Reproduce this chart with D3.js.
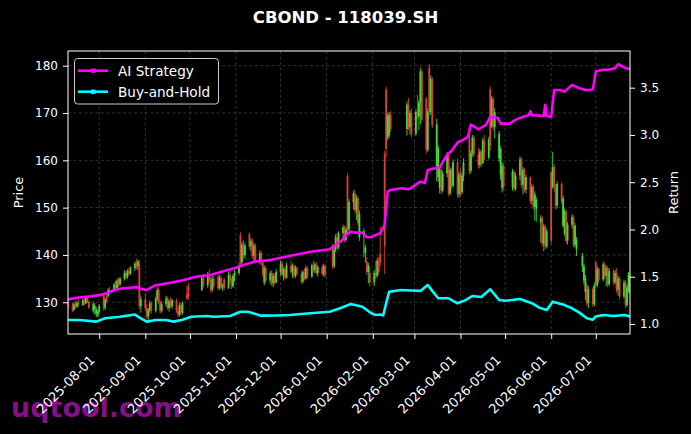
<!DOCTYPE html>
<html>
<head>
<meta charset="utf-8">
<script src="https://cdn.jsdelivr.net/npm/d3@7"></script>
<style>
  body { margin: 0; background: #000; }
  text { font-family: "DejaVu Sans", sans-serif; }
</style>
</head>
<body>
<div id="chart"></div>
<script>
// ---- data ----
const title = "CBOND - 118039.SH";
const startDay = "2025-07-11";
const endDay = "2026-07-24";
// exchange closed on these weekdays
const holidays = ["2025-10-01", "2025-10-02", "2025-10-03", "2025-10-06", "2025-10-07", "2025-10-08",
    "2026-01-01", "2026-01-02", "2026-02-16", "2026-02-17", "2026-02-18", "2026-02-19", "2026-02-20",
    "2026-02-23", "2026-04-06", "2026-05-01", "2026-05-04", "2026-05-05", "2026-06-19"];

const priceTicks = [130, 140, 150, 160, 170, 180];
const returnTicks = [1.0, 1.5, 2.0, 2.5, 3.0, 3.5];
const monthTicks = ["2025-08-01", "2025-09-01", "2025-10-01", "2025-11-01", "2025-12-01", "2026-01-01",
    "2026-02-01", "2026-03-01", "2026-04-01", "2026-05-01", "2026-06-01", "2026-07-01"];

// one row per trading day: [open, high, low, close]
const jul25 = [[129.8,130.4,128.4,129.0],[129.0,129.9,127.9,128.4],[128.4,130.0,128.2,129.6],[129.6,130.3,128.7,129.1],
    [129.1,130.2,128.8,129.9],[129.9,130.6,129.0,129.4],[129.4,130.8,129.2,130.5],[130.5,131.2,129.4,129.8],
    [129.8,131.4,129.6,131.0],[131.0,131.3,129.8,130.1],[130.1,130.4,128.6,128.9],[128.2,130.2,127.8,129.6],
    [128.6,129.8,127.4,129.2],[127.6,129.0,126.9,128.5],[127.2,128.4,126.8,128.0]];
const aug25 = [[128.0,129.6,127.6,129.2],[131.6,132.0,128.2,128.8],[128.8,131.0,128.3,130.6],[131.2,132.0,129.8,130.2],
    [131.4,133.0,131.0,132.6],[132.6,133.2,131.6,132.0],[132.4,134.2,132.2,133.8],[133.8,134.6,132.6,133.0],
    [133.0,135.0,132.8,134.6],[134.6,135.2,133.2,133.6],[133.8,135.4,133.4,135.0],[135.0,136.8,134.6,136.2],
    [136.2,136.6,134.8,135.2],[135.4,137.0,135.0,136.6],[136.6,137.4,135.6,136.0],[136.0,137.6,135.8,137.2],
    [137.2,138.6,136.6,138.2],[138.2,139.2,137.0,137.6],[137.6,139.0,136.8,138.6],[138.0,138.9,128.6,129.2],
    [129.2,131.4,127.8,130.6]];
const sep25 = [[130.6,131.8,128.2,128.8],[128.8,129.6,126.4,127.0],[127.0,128.8,126.2,128.4],[128.4,130.4,127.8,129.8],
    [129.8,130.2,127.6,128.2],[128.2,131.2,127.8,130.8],[130.8,133.2,130.2,132.6],[132.6,133.0,129.6,130.0],
    [130.0,130.6,127.6,128.2],[128.2,130.2,127.8,129.6],[129.6,131.4,129.0,130.8],[130.8,131.2,128.4,128.8],
    [128.8,130.6,128.0,130.2],[130.2,131.0,128.8,129.2],[129.2,130.8,128.6,130.4],[130.4,130.8,127.8,128.2],
    [128.2,129.0,126.8,127.4],[127.4,129.8,127.0,129.4],[129.4,130.0,127.2,127.8],[127.8,130.2,127.4,129.8],
    [131.8,133.4,130.4,130.8],[133.6,134.0,130.6,131.2]];
const oct25 = [[132.6,135.8,132.4,135.2],[135.2,136.0,133.2,133.6],[133.6,136.4,133.0,135.8],[135.8,137.0,134.2,134.6],
    [134.6,135.4,132.0,132.6],[132.6,135.6,132.2,135.0],[135.0,135.6,133.0,133.4],[135.4,135.8,132.6,133.0],
    [133.0,135.8,132.6,135.2],[135.2,135.6,132.8,133.2],[133.2,134.0,132.4,133.6],[134.8,135.2,132.6,133.0],
    [133.0,136.4,132.8,135.8],[135.8,136.6,134.0,134.4],[134.4,135.2,132.8,133.4],[133.4,136.0,133.0,135.6],
    [135.6,136.8,134.4,136.2]];
const nov25 = [[136.2,138.4,135.8,137.8],[144.2,144.8,137.6,138.4],[138.4,142.8,138.0,142.2],[142.2,143.2,139.4,140.0],
    [140.0,142.6,139.2,142.0],[144.4,144.8,141.2,141.8],[141.8,143.6,140.8,143.0],[143.0,143.4,139.2,139.8],
    [139.8,142.6,138.6,142.0],[142.0,142.4,138.2,138.6],[138.6,141.0,138.0,140.4],[140.4,140.8,137.8,138.4],
    [138.4,138.8,135.4,136.0],[134.2,137.8,133.6,137.2],[137.2,137.6,134.0,134.6],[134.6,136.6,133.8,136.2],
    [136.2,136.8,133.4,134.0],[134.0,136.2,133.2,135.6],[135.6,136.0,133.6,134.2],[134.2,137.0,134.0,136.4]];
const dec25 = [[136.4,138.8,135.6,138.2],[138.2,138.6,135.4,135.8],[135.8,137.4,134.6,137.0],[137.0,137.6,134.8,135.2],
    [135.2,138.4,135.0,137.8],[137.8,138.8,136.0,136.4],[136.4,138.2,135.2,137.6],[137.6,138.0,135.0,135.6],
    [135.6,137.8,135.2,137.2],[137.2,137.6,135.6,136.0],[136.0,136.6,133.8,134.4],[134.4,136.8,134.0,136.4],
    [136.4,137.2,134.6,135.0],[135.0,137.8,134.8,137.2],[137.2,137.6,135.0,135.4],[135.4,138.2,135.2,137.8],
    [137.8,138.8,136.4,136.8],[136.8,138.4,136.2,138.0],[138.0,138.6,135.8,136.2],[136.2,137.8,135.4,137.4],
    [137.4,138.0,135.6,136.0],[136.0,138.2,135.4,137.6],[137.6,138.0,135.2,135.8]];
const jan26 = [[142.0,142.4,137.0,137.6],[137.6,141.8,137.2,141.2],[141.2,144.4,140.6,143.8],[143.8,144.6,141.0,141.6],
    [141.6,145.0,141.2,144.6],[144.6,146.4,143.4,145.8],[145.8,146.2,142.6,143.2],[143.2,146.0,142.8,145.4],
    [156.6,157.2,144.6,145.4],[145.4,151.8,145.0,151.2],[151.2,153.6,149.6,153.0],[153.0,153.8,148.8,149.4],
    [149.4,152.6,147.4,152.0],[152.0,152.4,146.2,146.8],[143.8,149.4,143.0,148.6],[144.0,145.6,139.6,145.0],
    [140.4,142.2,138.4,141.6],[138.6,139.6,135.8,136.4],[136.4,138.4,134.0,137.8],[136.2,137.6,133.4,134.2]];
const feb26 = [[134.2,136.8,133.4,136.2],[136.2,138.8,135.0,135.6],[135.6,139.4,135.2,138.8],[138.8,139.6,135.8,136.4],
    [140.2,146.0,137.6,138.4],[161.4,162.0,136.0,142.0],[175.0,175.6,160.6,162.4],[164.8,170.0,164.2,169.4],
    [165.2,170.2,164.6,169.6],[169.6,170.4,166.0,166.6],[166.6,172.4,165.2,171.8],[171.8,173.2,166.4,167.0],
    [167.0,170.6,165.4,170.0],[170.0,171.0,164.8,165.6]];
const mar26 = [[165.6,170.8,165.2,170.2],[170.2,173.8,168.6,169.2],[169.2,172.8,166.4,172.2],[172.2,179.6,167.6,178.8],
    [178.8,179.2,168.0,168.6],[173.0,173.4,161.4,162.2],[162.2,171.0,161.8,170.4],[179.6,180.4,169.4,170.2],
    [170.2,178.0,169.6,177.2],[177.2,177.6,166.8,167.4],[158.2,168.8,155.6,167.6],[156.4,163.2,155.4,162.6],
    [154.2,158.8,153.0,158.0],[158.0,159.0,152.8,153.6],[153.6,157.8,153.2,157.2],[157.2,161.8,156.4,161.2],
    [161.2,161.6,152.4,153.0],[153.0,158.6,152.6,158.0],[158.0,158.4,154.0,154.6],[154.6,160.2,154.2,159.6],
    [159.6,160.4,152.2,152.8],[152.8,157.6,152.0,157.0]];
const apr26 = [[157.0,158.2,152.4,153.2],[153.2,157.4,152.8,156.8],[156.8,160.4,155.6,159.6],[164.8,165.4,157.0,157.8],
    [157.8,162.2,157.2,161.6],[161.6,165.4,160.8,164.8],[164.8,165.2,160.6,161.2],[161.2,162.6,158.2,159.0],
    [159.0,162.4,158.4,161.8],[161.8,162.2,158.6,159.4],[159.4,164.8,159.2,164.2],[164.2,165.4,160.0,160.6],
    [160.6,165.0,160.2,164.4],[175.0,175.6,162.0,163.0],[167.2,173.6,166.8,173.0],[173.0,173.4,166.2,167.0],
    [167.0,171.0,164.6,170.2],[160.4,166.2,159.6,165.6],[157.0,163.0,155.8,162.4],[154.2,159.6,153.2,158.8],
    [158.8,159.4,153.6,154.4]];
const may26 = [[154.4,158.2,153.6,157.6],[157.6,158.0,153.4,154.0],[154.0,157.4,153.6,156.8],[156.8,160.8,155.8,160.2],
    [160.2,160.6,154.2,154.8],[154.8,158.6,152.8,158.0],[158.0,158.4,153.2,153.8],[153.8,157.0,153.0,156.4],
    [156.4,156.6,150.8,151.4],[151.4,155.0,150.6,154.4],[154.4,154.8,149.6,150.2],[150.2,153.4,147.2,152.8],
    [149.8,152.2,147.0,151.6],[146.8,148.4,142.6,147.8],[147.8,148.2,141.8,142.4],[142.4,146.6,140.8,146.0],
    [146.0,146.4,141.2,141.8],[141.8,145.6,141.4,145.0]];
const jun26 = [[157.4,157.8,142.2,143.0],[154.4,161.8,154.0,158.6],[158.6,159.2,153.4,154.2],[154.2,155.0,149.6,150.4],
    [150.4,155.6,149.8,155.0],[155.0,155.4,150.8,151.4],[146.2,152.6,145.8,152.0],[144.6,149.8,144.0,149.2],
    [149.2,149.6,142.4,143.0],[143.0,147.0,142.2,146.4],[146.4,148.6,145.6,148.0],[148.0,148.4,141.6,142.2],
    [142.2,146.8,141.6,146.2],[141.2,143.8,139.8,143.2],[137.6,140.4,136.4,139.8],[134.6,138.2,133.8,137.6],
    [132.2,135.8,130.4,135.2],[133.6,134.0,129.2,129.8],[129.8,133.4,128.8,132.8],[132.8,133.2,129.0,129.6],
    [129.6,134.2,129.2,133.6]];
const jul26 = [[138.4,138.8,133.0,133.6],[133.6,137.6,133.2,137.0],[137.0,137.4,134.2,134.8],[134.8,138.6,134.4,138.0],
    [138.0,138.4,135.0,135.6],[135.6,137.8,133.4,137.2],[137.2,137.6,133.2,133.8],[133.8,137.2,133.4,136.6],
    [136.6,137.0,133.6,134.2],[134.2,136.8,133.8,136.2],[136.2,137.2,132.0,132.6],[132.6,135.6,131.4,135.0],
    [135.0,135.4,130.6,131.2],[131.2,134.8,130.8,134.2],[134.2,134.6,128.8,129.4],[129.4,133.8,129.0,133.2],
    [133.2,136.4,132.0,135.8],[135.8,136.2,131.6,132.4]];

const candleMonths = [["2025-07", jul25], ["2025-08", aug25], ["2025-09", sep25], ["2025-10", oct25],
    ["2025-11", nov25], ["2025-12", dec25], ["2026-01", jan26], ["2026-02", feb26], ["2026-03", mar26],
    ["2026-04", apr26], ["2026-05", may26], ["2026-06", jun26], ["2026-07", jul26]];

// cumulative return series (right axis)
const aiStrategy = [["2025-07-11",1.26],["2025-07-18",1.28],["2025-07-25",1.29],["2025-08-01",1.305],["2025-08-07",1.33],
    ["2025-08-11",1.36],["2025-08-17",1.378],["2025-08-27",1.39],["2025-08-29",1.37],["2025-09-02",1.36],
    ["2025-09-08",1.41],["2025-09-18",1.437],["2025-09-27",1.466],["2025-10-05",1.50],["2025-10-15",1.518],
    ["2025-10-17",1.53],["2025-10-24",1.56],["2025-10-31",1.59],["2025-11-07",1.63],["2025-11-14",1.66],
    ["2025-11-24",1.677],["2025-12-07",1.72],["2025-12-21",1.765],["2026-01-03",1.79],["2026-01-07",1.836],
    ["2026-01-11",1.88],["2026-01-14",1.94],["2026-01-17",1.977],["2026-01-20",1.966],["2026-01-25",1.966],
    ["2026-01-28",1.917],["2026-01-31",1.92],["2026-02-03",1.94],["2026-02-06",1.96],["2026-02-09",2.05],
    ["2026-02-11",2.40],["2026-02-13",2.418],["2026-02-20",2.436],["2026-02-25",2.425],["2026-02-28",2.453],
    ["2026-03-05",2.506],["2026-03-08",2.49],["2026-03-10",2.63],["2026-03-15",2.648],["2026-03-18",2.66],
    ["2026-03-23",2.79],["2026-03-26",2.83],["2026-03-30",2.92],["2026-04-03",2.95],["2026-04-06",2.98],
    ["2026-04-08",3.11],["2026-04-13",3.06],["2026-04-18",3.105],["2026-04-21",3.19],["2026-04-26",3.18],
    ["2026-04-28",3.12],["2026-05-04",3.12],["2026-05-08",3.159],["2026-05-11",3.18],["2026-05-17",3.21],
    ["2026-05-18",3.25],["2026-05-19",3.21],["2026-05-27",3.20],["2026-05-28",3.32],["2026-05-29",3.20],
    ["2026-06-01",3.19],["2026-06-03",3.476],["2026-06-07",3.476],["2026-06-10",3.458],["2026-06-15",3.53],
    ["2026-06-19",3.50],["2026-06-24",3.476],["2026-06-29",3.48],["2026-07-01",3.67],["2026-07-05",3.688],
    ["2026-07-09",3.69],["2026-07-14",3.706],["2026-07-16",3.748],["2026-07-21",3.706],["2026-07-24",3.70]];
const buyHold = [["2025-07-11",1.042],["2025-07-19",1.042],["2025-07-30",1.025],["2025-08-05",1.06],["2025-08-15",1.077],
    ["2025-08-25",1.10],["2025-08-29",1.06],["2025-09-02",1.025],["2025-09-08",1.042],["2025-09-15",1.042],
    ["2025-09-20",1.025],["2025-09-26",1.045],["2025-10-02",1.077],["2025-10-12",1.085],["2025-10-17",1.077],
    ["2025-10-28",1.085],["2025-11-04",1.13],["2025-11-09",1.13],["2025-11-18",1.088],["2025-11-28",1.09],
    ["2025-12-07",1.095],["2025-12-21",1.113],["2026-01-03",1.13],["2026-01-10",1.166],["2026-01-17",1.21],
    ["2026-01-20",1.20],["2026-01-25",1.183],["2026-01-31",1.113],["2026-02-03",1.095],["2026-02-06",1.10],
    ["2026-02-08",1.09],["2026-02-10",1.22],["2026-02-12",1.34],["2026-02-20",1.36],["2026-02-27",1.355],
    ["2026-03-05",1.35],["2026-03-10",1.413],["2026-03-13",1.35],["2026-03-17",1.272],["2026-03-24",1.272],
    ["2026-03-30",1.219],["2026-04-04",1.25],["2026-04-09",1.296],["2026-04-15",1.285],["2026-04-21",1.367],
    ["2026-04-27",1.254],["2026-05-01",1.245],["2026-05-11",1.265],["2026-05-19",1.22],["2026-05-24",1.173],
    ["2026-05-29",1.148],["2026-06-02",1.236],["2026-06-10",1.20],["2026-06-15",1.166],["2026-06-20",1.12],
    ["2026-06-25",1.06],["2026-06-29",1.045],["2026-07-01",1.08],["2026-07-06",1.095],["2026-07-13",1.085],
    ["2026-07-20",1.095],["2026-07-24",1.08]];

// ---- layout ----
const W = 691, H = 434;
const plot = { left: 68, right: 630, top: 51, bottom: 334 };
const upColor = "#4cf03c", downColor = "#f0483a";
const aiColor = "#ff00ff", bhColor = "#00ffff";

const parse = d3.timeParse("%Y-%m-%d");
const fmt = d3.timeFormat("%Y-%m-%d");

// trading calendar: weekdays minus holidays
const tradingDays = d3.timeDay.range(parse(startDay), d3.timeDay.offset(parse(endDay), 1))
    .filter(d => d.getDay() !== 0 && d.getDay() !== 6 && !holidays.includes(fmt(d)));

const candles = [];
candleMonths.forEach(([key, rows]) => {
    const days = tradingDays.filter(d => fmt(d).startsWith(key));
    rows.forEach((r, i) => {
        if (days[i]) candles.push({ date: days[i], open: r[0], high: r[1], low: r[2], close: r[3] });
    });
});

const x = d3.scaleTime()
    .domain([parse(startDay), parse(endDay)])
    .range([plot.left, plot.right]);
const yPrice = d3.scaleLinear().domain([123.3, 183.1]).range([plot.bottom, plot.top]);
const yRet = d3.scaleLinear().domain([0.894, 3.888]).range([plot.bottom, plot.top]);

const svg = d3.select("#chart").append("svg")
    .attr("width", W).attr("height", H);

svg.append("rect").attr("width", W).attr("height", H).attr("fill", "#000");

// watermark sits behind the tick labels
svg.append("text")
    .attr("x", 11).attr("y", 417)
    .attr("font-size", 27).attr("font-weight", "bold")
    .attr("fill", "#85108a")
    .text("uqtool.com");

svg.append("text")
    .attr("x", W / 2).attr("y", 23)
    .attr("text-anchor", "middle")
    .attr("font-size", 16.5).attr("font-weight", "bold")
    .attr("fill", "#fff")
    .text(title);

svg.append("defs").append("clipPath").attr("id", "clip")
    .append("rect")
    .attr("x", plot.left).attr("y", plot.top)
    .attr("width", plot.right - plot.left).attr("height", plot.bottom - plot.top);

// grid
const grid = svg.append("g").attr("stroke", "#6a6a6a").attr("stroke-width", 0.6)
    .attr("stroke-dasharray", "3,2.5").attr("opacity", 0.8);
grid.selectAll(".gy").data(priceTicks).enter().append("line")
    .attr("x1", plot.left).attr("x2", plot.right)
    .attr("y1", d => yPrice(d)).attr("y2", d => yPrice(d));
grid.selectAll(".gx").data(monthTicks).enter().append("line")
    .attr("y1", plot.top).attr("y2", plot.bottom)
    .attr("x1", d => x(parse(d))).attr("x2", d => x(parse(d)));

// candlesticks
const cg = svg.append("g").attr("clip-path", "url(#clip)").attr("opacity", 0.9);
cg.selectAll(".wick").data(candles).enter().append("line")
    .attr("x1", d => x(d.date)).attr("x2", d => x(d.date))
    .attr("y1", d => yPrice(d.high)).attr("y2", d => yPrice(d.low))
    .attr("stroke", d => d.close >= d.open ? upColor : downColor)
    .attr("stroke-width", 0.9);
cg.selectAll(".body").data(candles).enter().append("rect")
    .attr("x", d => x(d.date) - 0.9)
    .attr("width", 1.8)
    .attr("y", d => yPrice(Math.max(d.open, d.close)))
    .attr("height", d => Math.max(0.8, Math.abs(yPrice(d.open) - yPrice(d.close))))
    .attr("fill", d => d.close >= d.open ? upColor : downColor);

// return lines
const line = d3.line().x(d => x(parse(d[0]))).y(d => yRet(d[1]));
const lg = svg.append("g").attr("clip-path", "url(#clip)");
lg.append("path").datum(buyHold)
    .attr("d", line).attr("fill", "none")
    .attr("stroke", bhColor).attr("stroke-width", 2.6).attr("stroke-linejoin", "round");
lg.append("path").datum(aiStrategy)
    .attr("d", line).attr("fill", "none")
    .attr("stroke", aiColor).attr("stroke-width", 2.6).attr("stroke-linejoin", "round");

// axes
function styleAxis(g) {
    g.select(".domain").remove();
    g.selectAll(".tick line").attr("stroke", "#fff").attr("stroke-width", 1);
    g.selectAll(".tick text").attr("fill", "#fff").attr("font-size", 12)
        .attr("font-family", "DejaVu Sans, sans-serif");
}

svg.append("g")
    .attr("transform", `translate(${plot.left},0)`)
    .call(d3.axisLeft(yPrice).tickValues(priceTicks).tickSize(5).tickPadding(5))
    .call(styleAxis);

svg.append("g")
    .attr("transform", `translate(${plot.right},0)`)
    .call(d3.axisRight(yRet).tickValues(returnTicks).tickSize(5).tickPadding(5)
        .tickFormat(d3.format(".1f")))
    .call(styleAxis);

svg.append("g")
    .attr("transform", `translate(0,${plot.bottom})`)
    .call(d3.axisBottom(x).tickValues(monthTicks.map(parse)).tickSize(5)
        .tickFormat(fmt))
    .call(styleAxis)
    .selectAll(".tick text")
    .attr("x", 0).attr("y", 0).attr("dy", 0)
    .attr("font-size", 13)
    .attr("text-anchor", "end")
    .attr("transform", "translate(-4,27) rotate(-45)");

// frame
svg.append("rect")
    .attr("x", plot.left).attr("y", plot.top)
    .attr("width", plot.right - plot.left).attr("height", plot.bottom - plot.top)
    .attr("fill", "none").attr("stroke", "#fff").attr("stroke-width", 1);

svg.append("text")
    .attr("transform", `translate(23,${(plot.top + plot.bottom) / 2}) rotate(-90)`)
    .attr("text-anchor", "middle").attr("font-size", 13).attr("fill", "#fff")
    .text("Price");
svg.append("text")
    .attr("transform", `translate(678,${(plot.top + plot.bottom) / 2}) rotate(-90)`)
    .attr("text-anchor", "middle").attr("font-size", 13).attr("fill", "#fff")
    .text("Return");

// legend
const legendItems = [["AI Strategy", aiColor], ["Buy-and-Hold", bhColor]];
const leg = svg.append("g");
leg.append("rect")
    .attr("x", 74.5).attr("y", 58.5).attr("width", 144).attr("height", 45.5).attr("rx", 3)
    .attr("fill", "#000").attr("stroke", "#cccccc").attr("stroke-width", 1);
legendItems.forEach(([name, color], i) => {
    const cy = 70.7 + i * 21;
    leg.append("line").attr("x1", 78).attr("x2", 108).attr("y1", cy).attr("y2", cy)
        .attr("stroke", color).attr("stroke-width", 2.6);
    leg.append("rect").attr("x", 91).attr("y", cy - 2.2).attr("width", 4.4).attr("height", 4.4)
        .attr("fill", color);
    leg.append("text").attr("x", 118).attr("y", cy + 4.8)
        .attr("font-size", 13.6).attr("fill", "#fff").text(name);
});
</script>
</body>
</html>
